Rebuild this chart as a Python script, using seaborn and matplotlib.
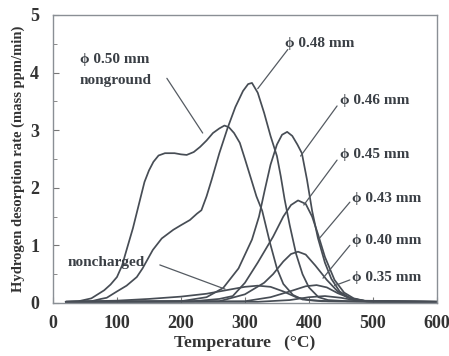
import matplotlib
matplotlib.use("Agg")
import matplotlib.pyplot as plt
import seaborn as sns
import pandas as pd

# ---- data ----
t_050 = [20, 40, 60, 70, 80, 90, 100, 108, 115, 125, 136, 143, 150, 157, 165, 175, 190, 200, 209, 220, 230, 240, 250, 260, 268, 275, 283, 292, 300, 310, 318, 327, 339, 350, 360, 375, 390, 420, 500, 600]
v_050 = [0.02, 0.03, 0.08, 0.15, 0.22, 0.32, 0.45, 0.65, 0.92, 1.3, 1.79, 2.1, 2.3, 2.45, 2.56, 2.6, 2.6, 2.58, 2.57, 2.62, 2.71, 2.82, 2.95, 3.03, 3.08, 3.05, 2.95, 2.78, 2.5, 2.14, 1.85, 1.6, 1.05, 0.6, 0.33, 0.14, 0.06, 0.03, 0.02, 0.02]

t_048 = [20, 60, 75, 84, 100, 115, 131, 140, 156, 170, 188, 200, 214, 225, 232, 240, 248, 260, 273, 285, 297, 305, 311, 320, 330, 340, 350, 356, 362, 370, 380, 390, 400, 415, 430, 460, 600]
v_048 = [0.02, 0.03, 0.07, 0.09, 0.2, 0.3, 0.45, 0.6, 0.92, 1.12, 1.27, 1.35, 1.44, 1.55, 1.61, 1.85, 2.14, 2.6, 3.04, 3.4, 3.68, 3.8, 3.82, 3.65, 3.3, 2.9, 2.55, 2.2, 1.8, 1.35, 0.85, 0.5, 0.27, 0.1, 0.05, 0.03, 0.02]

t_046 = [20, 200, 240, 266, 290, 311, 322, 331, 340, 350, 358, 366, 374, 382, 389, 397, 405, 414, 425, 435, 448, 465, 490, 600]
v_046 = [0.02, 0.03, 0.1, 0.26, 0.6, 1.1, 1.5, 1.96, 2.4, 2.75, 2.92, 2.97, 2.9, 2.75, 2.6, 2.14, 1.6, 1.13, 0.7, 0.42, 0.2, 0.08, 0.03, 0.02]

t_045 = [20, 220, 260, 281, 300, 320, 344, 360, 372, 383, 395, 405, 414, 425, 440, 455, 470, 490, 600]
v_045 = [0.02, 0.03, 0.07, 0.12, 0.35, 0.7, 1.15, 1.5, 1.7, 1.78, 1.72, 1.5, 1.2, 0.8, 0.4, 0.18, 0.08, 0.03, 0.02]

t_043 = [20, 260, 300, 330, 344, 360, 372, 383, 395, 410, 428, 445, 460, 480, 600]
v_043 = [0.02, 0.03, 0.15, 0.35, 0.5, 0.72, 0.85, 0.89, 0.84, 0.65, 0.4, 0.2, 0.1, 0.04, 0.02]

t_040 = [20, 300, 340, 370, 395, 412, 428, 445, 465, 490, 600]
v_040 = [0.02, 0.03, 0.1, 0.2, 0.29, 0.31, 0.27, 0.17, 0.08, 0.03, 0.02]

t_035 = [20, 320, 370, 400, 425, 450, 475, 500, 600]
v_035 = [0.02, 0.02, 0.05, 0.1, 0.12, 0.09, 0.04, 0.02, 0.02]

t_nc = [20, 100, 150, 200, 240, 270, 300, 320, 340, 360, 380, 400, 430, 600]
v_nc = [0.02, 0.04, 0.07, 0.11, 0.16, 0.22, 0.28, 0.3, 0.28, 0.2, 0.1, 0.05, 0.03, 0.02]

series = {
    "0.50": (t_050, v_050),
    "0.48": (t_048, v_048),
    "0.46": (t_046, v_046),
    "0.45": (t_045, v_045),
    "0.43": (t_043, v_043),
    "0.40": (t_040, v_040),
    "0.35": (t_035, v_035),
    "noncharged": (t_nc, v_nc),
}

x_ticks = [0, 100, 200, 300, 400, 500, 600]
y_ticks = [0, 1, 2, 3, 4, 5]

rows = []
for name, (ts, vs) in series.items():
    for t, v in zip(ts, vs):
        rows.append({"T": t, "rate": v, "sample": name})
df = pd.DataFrame(rows)

# ---- plot ----
sns.set_style("ticks")
serif = ["Liberation Serif", "DejaVu Serif"]
plt.rcParams["font.family"] = serif

fig = plt.figure(figsize=(4.49, 3.56), dpi=100)
ax = fig.add_axes([0.118, 0.149, 0.855, 0.809])

line_col = "#474d55"
sns.lineplot(data=df, x="T", y="rate", hue="sample", estimator=None,
             palette=[line_col] * len(series), legend=False, ax=ax,
             linewidth=1.25)

ax.set_xlim(0, 600)
ax.set_ylim(0, 5)
ax.set_xticks(x_ticks)
ax.set_yticks(y_ticks)
ax.set_xticklabels([str(v) for v in x_ticks], fontsize=13, fontweight="bold", color="#333333")
ax.set_yticklabels([str(v) for v in y_ticks], fontsize=13, fontweight="bold", color="#333333")
ax.set_yticks([0.5, 1.5, 2.5, 3.5, 4.5], minor=True)
ax.tick_params(axis="x", direction="in", length=4, width=0.8, color="#777777", pad=9)
ax.tick_params(axis="y", direction="in", length=4, width=0.8, color="#777777", pad=10)
ax.tick_params(axis="y", which="minor", direction="in", length=3, color="#777777")
for s in ax.spines.values():
    s.set_color("#8a8f95")
    s.set_linewidth(1.0)

ax.set_xlabel("Temperature   (°C)", fontsize=12.5, fontweight="bold", color="#333333", labelpad=2)
ax.set_ylabel("Hydrogen desorption rate (mass ppm/min)", fontsize=10.5, fontweight="bold",
              color="#333333", labelpad=4)

tc = "#3a3f45"
lc = "#555b62"
fs = 11

ax.text(42, 4.22, "ϕ 0.50 mm", fontsize=fs, fontweight="bold", color=tc, va="center")
ax.text(42, 3.86, "nonground", fontsize=fs, fontweight="bold", color=tc, va="center")
ax.plot([178, 234], [3.9, 2.95], color=lc, lw=0.9)

ax.text(362, 4.5, "ϕ 0.48 mm", fontsize=fs, fontweight="bold", color=tc, va="center")
ax.plot([367, 320], [4.4, 3.72], color=lc, lw=0.9)

ax.text(448, 3.52, "ϕ 0.46 mm", fontsize=fs, fontweight="bold", color=tc, va="center")
ax.plot([444, 387], [3.42, 2.55], color=lc, lw=0.9)

ax.text(448, 2.57, "ϕ 0.45 mm", fontsize=fs, fontweight="bold", color=tc, va="center")
ax.plot([444, 392], [2.48, 1.7], color=lc, lw=0.9)

ax.text(468, 1.82, "ϕ 0.43 mm", fontsize=fs, fontweight="bold", color=tc, va="center")
ax.plot([464, 417], [1.75, 1.13], color=lc, lw=0.9)

ax.text(468, 1.09, "ϕ 0.40 mm", fontsize=fs, fontweight="bold", color=tc, va="center")
ax.plot([464, 422], [1.0, 0.43], color=lc, lw=0.9)

ax.text(468, 0.45, "ϕ 0.35 mm", fontsize=fs, fontweight="bold", color=tc, va="center")
ax.plot([464, 440], [0.4, 0.3], color=lc, lw=0.9)

ax.text(23, 0.71, "noncharged", fontsize=fs, fontweight="bold", color=tc, va="center")
ax.plot([167, 269], [0.66, 0.24], color=lc, lw=0.9)

fig.savefig("out.png", dpi=100)
